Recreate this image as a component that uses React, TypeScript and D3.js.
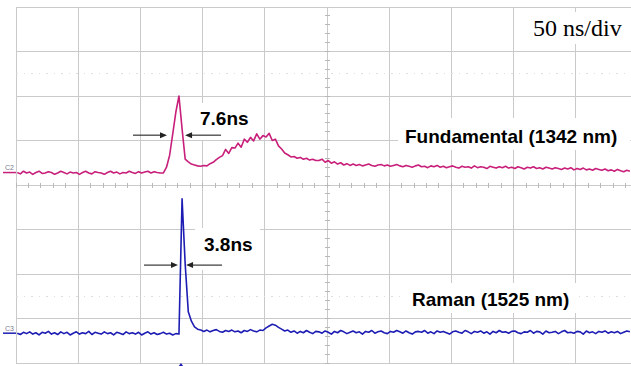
import * as d3 from 'd3';

// scope settings: 50 ns/div across 10 divisions, 8 vertical divisions
const timePerDiv = 50;
const xDivs = 10;
const yDivs = 8;

// sample times (ns) of the captured record
const sampleTimes = d3.range(1, 495, 2.5);

// fundamental trace, in divisions above centre
const fundamental = [
  0.28, 0.25, 0.31, 0.27, 0.29, 0.24, 0.28, 0.31, 0.26, 0.27,
  0.30, 0.28, 0.24, 0.27, 0.31, 0.28, 0.25, 0.29, 0.27, 0.28,
  0.24, 0.28, 0.31, 0.27, 0.25, 0.30, 0.28, 0.27, 0.24, 0.28,
  0.31, 0.27, 0.29, 0.25, 0.28, 0.27, 0.31, 0.28, 0.26, 0.30,
  0.27, 0.29, 0.31, 0.27, 0.30, 0.28, 0.27,
  0.27, 0.40, 0.67, 1.15, 1.64, 2.00, 1.26, 0.58, 0.52, 0.47, 0.45, 0.43, 0.42,
  0.44, 0.43, 0.48, 0.51, 0.57, 0.62,
  0.66, 0.80, 0.71, 0.84, 0.83, 0.94, 0.85, 1.03, 0.96, 1.07,
  0.99, 1.15, 1.03, 1.11, 1.08, 1.16, 1.00, 1.03, 0.88, 0.81,
  0.72, 0.68, 0.63, 0.64, 0.60, 0.62, 0.58, 0.60, 0.56, 0.58, 0.55,
  0.55, 0.58, 0.51, 0.55, 0.49, 0.52, 0.47, 0.50, 0.45, 0.48, 0.44,
  0.47, 0.44, 0.46, 0.43, 0.45, 0.47, 0.44, 0.42, 0.45, 0.46, 0.43, 0.45, 0.42, 0.44, 0.46, 0.43,
  0.41, 0.44, 0.42, 0.40, 0.43, 0.45, 0.41, 0.42, 0.39, 0.43, 0.41, 0.44, 0.40, 0.42, 0.39, 0.41,
  0.43, 0.40, 0.38, 0.42, 0.40, 0.41, 0.38, 0.43, 0.39, 0.41, 0.40, 0.37, 0.42, 0.40, 0.38, 0.41,
  0.39, 0.42, 0.38, 0.40, 0.37, 0.41, 0.39, 0.36, 0.40, 0.38, 0.41, 0.37, 0.39, 0.36, 0.40, 0.38,
  0.36, 0.39, 0.37, 0.35, 0.38, 0.36, 0.39, 0.34, 0.37, 0.35, 0.38, 0.34, 0.36, 0.33, 0.37, 0.35,
  0.33, 0.36, 0.32, 0.34, 0.31, 0.35, 0.32, 0.30, 0.33, 0.31,
];

// raman trace, in divisions above centre
const raman = [
  -3.33, -3.36, -3.31, -3.34, -3.30, -3.35, -3.32, -3.37, -3.31, -3.33,
  -3.29, -3.35, -3.32, -3.36, -3.30, -3.34, -3.31, -3.37, -3.33, -3.30,
  -3.35, -3.32, -3.34, -3.29, -3.36, -3.31, -3.33, -3.35, -3.30, -3.34,
  -3.32, -3.37, -3.31, -3.33, -3.36, -3.30, -3.34, -3.32, -3.35, -3.31,
  -3.37, -3.33, -3.30, -3.35, -3.32, -3.36, -3.34, -3.31, -3.35, -3.33,
  -3.37, -3.34,
  -3.35, -0.31, -1.78, -2.85, -3.06, -3.19, -3.24, -3.26,
  -3.29, -3.26, -3.30, -3.27, -3.25, -3.29, -3.31, -3.27, -3.29, -3.26,
  -3.30, -3.28, -3.32, -3.27, -3.29, -3.25, -3.28, -3.30, -3.26, -3.27,
  -3.21, -3.17, -3.13, -3.15, -3.20, -3.24, -3.28, -3.26,
  -3.31, -3.28, -3.33, -3.29, -3.32, -3.27, -3.31, -3.34, -3.29, -3.30,
  -3.33, -3.28, -3.31, -3.35, -3.29, -3.32, -3.27, -3.30, -3.34, -3.31,
  -3.28, -3.32, -3.30, -3.35, -3.29, -3.31, -3.27, -3.33, -3.30, -3.28,
  -3.32, -3.34, -3.29, -3.31, -3.27, -3.30, -3.33, -3.28, -3.32, -3.35,
  -3.30, -3.29, -3.31, -3.27, -3.33, -3.30, -3.34, -3.28, -3.31, -3.29,
  -3.32, -3.35, -3.30, -3.28, -3.31, -3.33, -3.27, -3.30, -3.34, -3.29,
  -3.31, -3.28, -3.33, -3.30, -3.35, -3.29, -3.32, -3.27, -3.31, -3.30,
  -3.33, -3.29, -3.28, -3.32, -3.34, -3.30, -3.31, -3.27, -3.33, -3.29,
  -3.30, -3.35, -3.28, -3.32, -3.31, -3.29, -3.34, -3.30, -3.27, -3.32,
  -3.31, -3.33, -3.29, -3.30, -3.35, -3.28, -3.32, -3.30, -3.34, -3.29,
  -3.31, -3.28, -3.33, -3.30, -3.32, -3.29, -3.34, -3.31, -3.28, -3.30,
];

// channel names and their ground levels (div)
const channelNames = ['C2', 'C3'];
const channelLevels = [0.28, -3.33];

// pulse width markers: label, left tip, right tip (ns), level (div)
const widthLabels = ['7.6ns', '3.8ns'];
const widthLeftTips = [121.4, 130.2];
const widthRightTips = [135.9, 136.7];
const widthLevels = [1.12, -1.8];

const traceLabels = ['Fundamental (1342 nm)', 'Raman (1525 nm)'];
const timebaseLabel = `${timePerDiv} ns/div`;
const triggerTime = 132.6;

const W = 631;
const H = 366;
const gridColor = '#cacaca';
const fundColor = '#c81f7a';
const ramanColor = '#1d1db4';
const sans = "Arial, 'Liberation Sans', sans-serif";
const serif = "'Times New Roman', 'Liberation Serif', serif";

export default function App() {
  const x = d3.scaleLinear().domain([0, timePerDiv * xDivs]).range([16, 16 + 62.2 * xDivs]);
  const y = d3.scaleLinear().domain([-yDivs / 2, yDivs / 2]).range([363, 7]);

  const xMajor = d3.range(0, timePerDiv * xDivs + 1, timePerDiv).filter((t) => x(t) <= W);
  const yMajor = d3.range(-yDivs / 2, yDivs / 2 + 0.01, 1);
  const xMinor = d3.range(0, timePerDiv * xDivs, timePerDiv / 5).filter((t) => x(t) <= W);
  const yMinor = d3.range(-yDivs / 2, yDivs / 2, 0.2);
  const x0 = 16;
  const xEnd = W;
  const yTop = y(yDivs / 2);
  const yBot = y(-yDivs / 2);
  const cx = x((timePerDiv * xDivs) / 2);
  const cy = y(0);

  const line = d3
    .line<number>()
    .x((_, i) => x(sampleTimes[i]))
    .y((d) => y(d))
    .curve(d3.curveLinear);

  const arrowLen = 34;

  // white boxes behind annotation texts (px offsets from text anchor)
  const widthText = [
    { tx: 200, ty: 125, box: [-6, -22, 61, 37] },
    { tx: 204, ty: 251, box: [-9, -23, 65, 42] },
  ];
  const traceText = [
    { tx: 405, ty: 143, box: [-7, -25, 232, 32] },
    { tx: 412, ty: 306, box: [-12, -23, 177, 30] },
  ];
  const tbText = { tx: 533, ty: 36, box: [-6, -24, 104, 32] };

  const arrowHead = (xt: number, yt: number, dir: number) =>
    `M${xt},${yt} L${xt - dir * 7},${yt - 3} L${xt - dir * 7},${yt + 3} Z`;

  return (
    <svg width={W} height={H} style={{ position: 'absolute', left: 0, top: 0, background: '#fff' }}>
      <rect width={W} height={H} fill='#fff' />
      <g shapeRendering='crispEdges' stroke={gridColor} strokeWidth={1}>
        {xMajor.map((t) => (
          <line key={'vx' + t} x1={x(t)} x2={x(t)} y1={yTop} y2={yBot} />
        ))}
        {yMajor.map((v) => (
          <line key={'hy' + v} x1={x0} x2={xEnd} y1={y(v)} y2={y(v)} />
        ))}
        {[2.5, -2.5].map((v) => (
          <line key={'dot' + v} x1={x0} x2={xEnd} y1={y(v)} y2={y(v)} stroke='#dedede' strokeDasharray='1.5 6' />
        ))}
        {xMinor.map((t) => (
          <line key={'mx' + t} x1={x(t)} x2={x(t)} y1={cy - 2.5} y2={cy + 2.5} stroke='#b8b8b8' />
        ))}
        {yMinor.map((v) => (
          <line key={'my' + v} x1={cx - 2.5} x2={cx + 2.5} y1={y(v)} y2={y(v)} stroke='#b8b8b8' />
        ))}
      </g>

      {[...widthText, ...traceText, tbText].map((b, i) => (
        <rect key={'box' + i} x={b.tx + b.box[0]} y={b.ty + b.box[1]} width={b.box[2]} height={b.box[3]} fill='#fff' />
      ))}

      {channelNames.map((c, i) => (
        <g key={c}>
          <text x={5} y={y(channelLevels[i]) - 2.5} fontFamily={sans} fontSize={7} fill='#7a7a90'>
            {c}
          </text>
          <line x1={3} x2={x0} y1={y(channelLevels[i])} y2={y(channelLevels[i])} stroke={i === 0 ? fundColor : ramanColor} strokeWidth={1.5} />
        </g>
      ))}

      <path d={line(fundamental) ?? ''} fill='none' stroke={fundColor} strokeWidth={1.6} strokeLinejoin='round' />
      <path d={line(raman) ?? ''} fill='none' stroke={ramanColor} strokeWidth={1.6} strokeLinejoin='round' />

      <path d={`M${x(triggerTime)},${yBot} l-2.5,3.5 l5,0 Z`} fill={ramanColor} />

      {widthLabels.map((lab, i) => {
        const yl = y(widthLevels[i]);
        const xl = x(widthLeftTips[i]);
        const xr = x(widthRightTips[i]);
        return (
          <g key={lab}>
            <line x1={xl - arrowLen} x2={xl - 5} y1={yl} y2={yl} stroke='#222' strokeWidth={1.1} />
            <path d={arrowHead(xl, yl, 1)} fill='#222' />
            <line x1={xr + 5} x2={xr + arrowLen + 2} y1={yl} y2={yl} stroke='#222' strokeWidth={1.1} />
            <path d={arrowHead(xr, yl, -1)} fill='#222' />
            <text x={widthText[i].tx} y={widthText[i].ty} fontFamily={sans} fontWeight='bold' fontSize={19} fill='#000'>
              {lab}
            </text>
          </g>
        );
      })}

      {traceLabels.map((lab, i) => (
        <text key={lab} x={traceText[i].tx} y={traceText[i].ty} fontFamily={sans} fontWeight='bold' fontSize={19} fill='#000'>
          {lab}
        </text>
      ))}

      <text x={tbText.tx} y={tbText.ty} fontFamily={serif} fontSize={24} fill='#000'>
        {timebaseLabel}
      </text>
    </svg>
  );
}
